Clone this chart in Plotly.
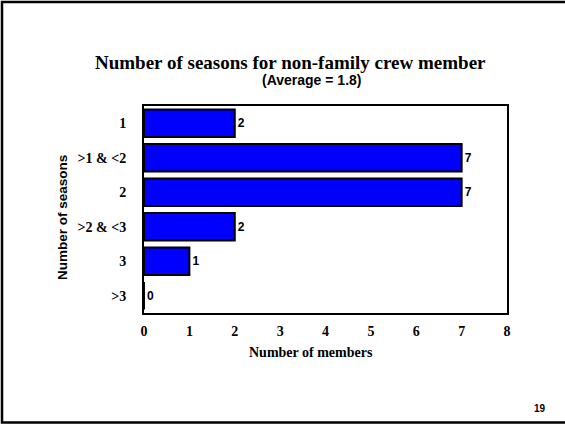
import plotly.graph_objects as go

categories = ["1", ">1 & <2", "2", ">2 & <3", "3", ">3"]
members = [2, 7, 7, 2, 1, 0]
x_ticks = [0, 1, 2, 3, 4, 5, 6, 7, 8]

W, H = 565, 424
L, R, T, B = 144, 507, 106, 313
pw, ph = R - L, B - T

def px(x):
    return (x - L) / pw

def py(y):
    return (B - y) / ph

fig = go.Figure(go.Bar(
    x=members, y=categories, orientation="h",
    marker=dict(color="#0000FF", line=dict(color="black", width=2)),
    text=[str(v) for v in members], textposition="outside",
    textfont=dict(family="Liberation Sans", size=12, color="black", weight="bold"),
    cliponaxis=False, width=0.8,
))

fig.update_layout(
    width=W, height=H,
    margin=dict(l=L, r=W - R, t=T, b=H - B, pad=0),
    paper_bgcolor="white", plot_bgcolor="white",
    showlegend=False,
    xaxis=dict(range=[0, 8], tickvals=x_ticks, showgrid=False, zeroline=False,
               showline=True, linecolor="black", linewidth=2, mirror=True,
               ticks="", ticklabelstandoff=4,
               tickfont=dict(family="Liberation Serif", size=14, color="black", weight="bold")),
    yaxis=dict(categoryorder="array", categoryarray=categories, autorange="reversed",
               showgrid=False, zeroline=False,
               showline=True, linecolor="black", linewidth=2, mirror=True,
               ticks="", ticklabelstandoff=13,
               tickfont=dict(family="Liberation Serif", size=14, color="black", weight="bold")),
    font=dict(color="black"),
)

ann = [
    dict(text="<b>Number of seasons for non-family crew member</b>", x=px(290), y=py(63),
         font=dict(family="Liberation Serif", size=19, color="black")),
    dict(text="<b>(Average = 1.8)</b>", x=px(311), y=py(80),
         font=dict(family="Liberation Sans", size=14, color="black")),
    dict(text="<b>Number of members</b>", x=px(311), y=py(352),
         font=dict(family="Liberation Serif", size=14, color="black")),
    dict(text="<b>Number of seasons</b>", x=px(62), y=py(218), textangle=-90,
         font=dict(family="Liberation Sans", size=13.5, color="black")),
    dict(text="<b>19</b>", x=px(539.5), y=py(408),
         font=dict(family="Liberation Sans", size=10, color="black")),
]
for a in ann:
    a.update(xref="paper", yref="paper", showarrow=False, xanchor="center", yanchor="middle")
fig.update_layout(annotations=ann)

fig.add_shape(type="path", xref="paper", yref="paper",
              path=f"M {px(570)} {py(2)} L {px(2)} {py(2)} L {px(2)} {py(422.5)} L {px(570)} {py(422.5)}",
              line=dict(color="black", width=2.5))

fig.write_html("out.html")
